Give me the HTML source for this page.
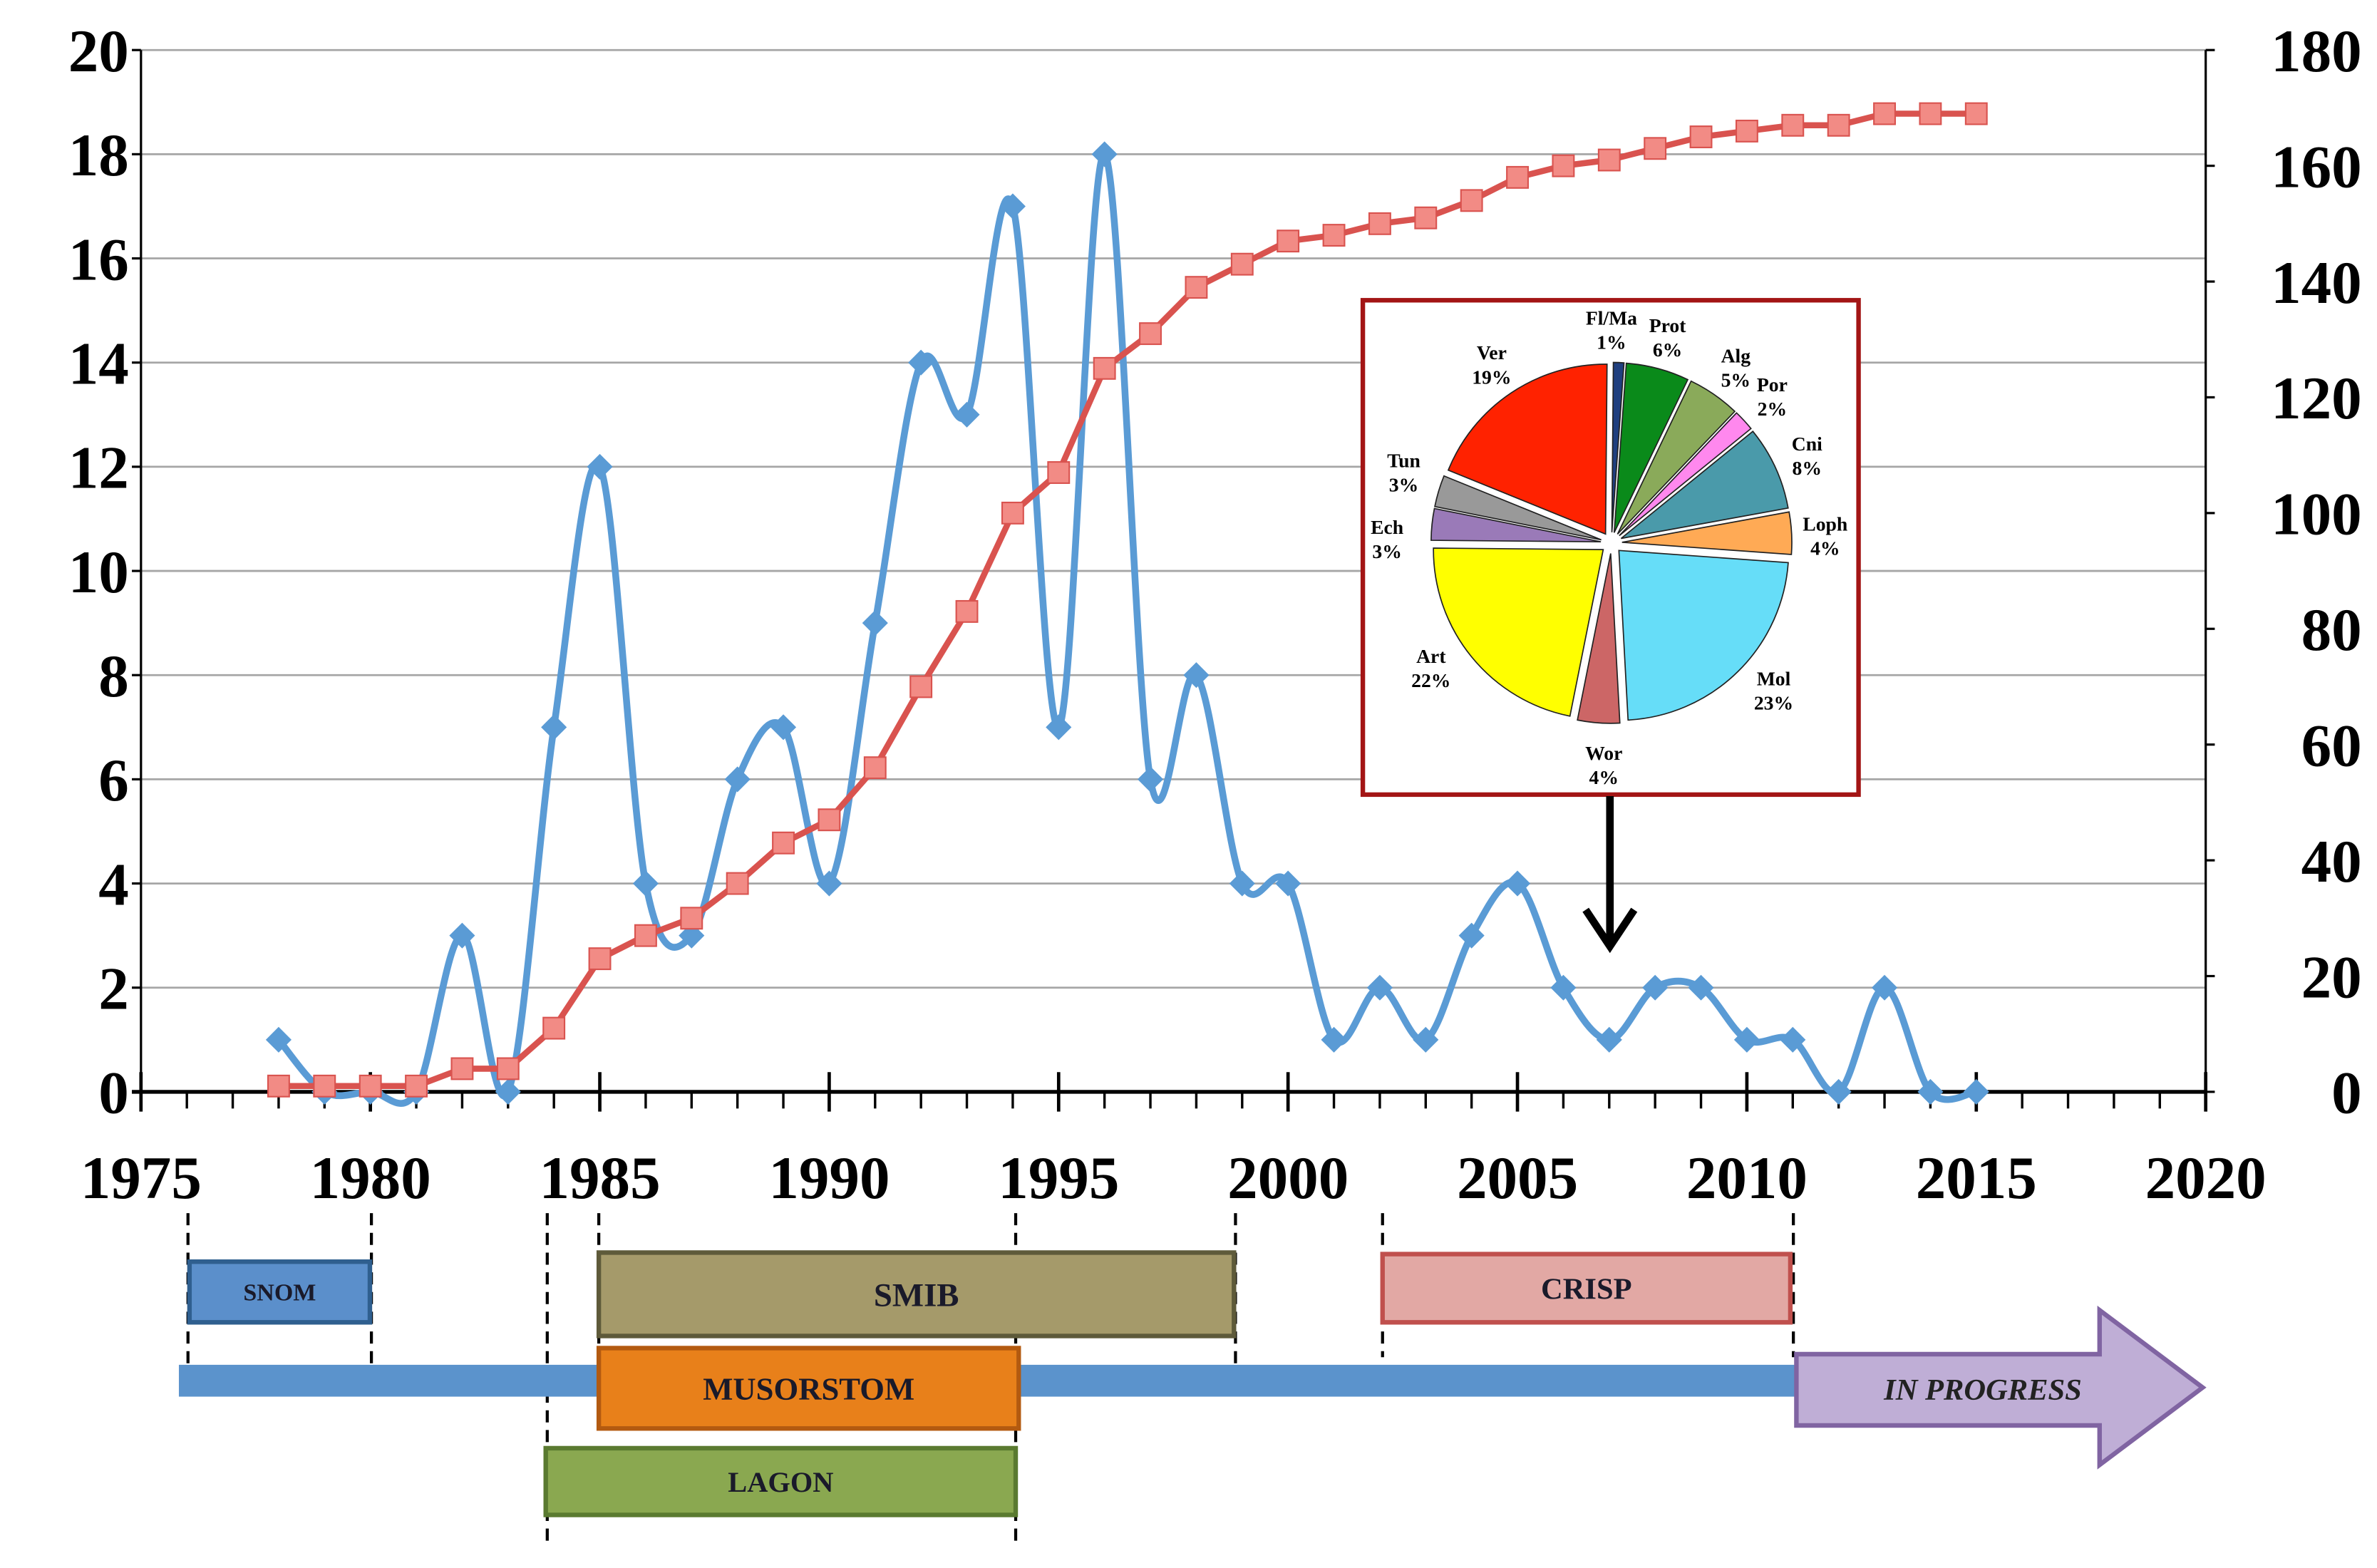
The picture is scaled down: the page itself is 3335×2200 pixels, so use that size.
<!DOCTYPE html>
<html><head><meta charset="utf-8"><style>
html,body{margin:0;padding:0;background:#fff;}
svg{display:block;}
text{font-family:"Liberation Serif",serif;font-weight:bold;}
</style></head><body>
<svg id="chart" width="3335" height="2200" viewBox="0 0 1568 1034" preserveAspectRatio="none" xmlns="http://www.w3.org/2000/svg">
<rect x="0" y="0" width="1568" height="1034" fill="#fff"/>
<g id="grid"></g>
<g id="axes"></g>
<g id="series"></g>
<g id="inset"></g>
<g id="timeline"></g>
</svg>
<script>
const years = [1978,1979,1980,1981,1982,1983,1984,1985,1986,1987,1988,1989,1990,1991,1992,1993,1994,1995,1996,1997,1998,1999,2000,2001,2002,2003,2004,2005,2006,2007,2008,2009,2010,2011,2012,2013,2014,2015];
const annualCounts = [1,0,0,0,3,0,7,12,4,3,6,7,4,9,14,13,17,7,18,6,8,4,4,1,2,1,3,4,2,1,2,2,1,1,0,2,0,0];
const cumulativeCounts = [1,1,1,1,4,4,11,23,27,30,36,43,47,56,70,83,100,107,125,131,139,143,147,148,150,151,154,158,160,161,163,165,166,167,167,169,169,169];
const leftTicks = [0,2,4,6,8,10,12,14,16,18,20];
const rightTicks = [0,20,40,60,80,100,120,140,160,180];
const xTicks = [1975,1980,1985,1990,1995,2000,2005,2010,2015,2020];
const pieLabels = ["Fl/Ma","Prot","Alg","Por","Cni","Loph","Mol","Wor","Art","Ech","Tun","Ver"];
const pieValues = [1,6,5,2,8,4,23,4,22,3,3,19];
const pieColors = ["#1f3f7f","#0a8a1a","#8aaa5a","#ff88ee","#4a9aaa","#ffaa55","#66ddf8","#cc6666","#ffff00","#9a7ab8","#999999","#ff2200"];
const NS="http://www.w3.org/2000/svg";
const X0=93,X1=1455,Y0=720,Y1=33;
const xs=y=>X0+(y-1975)/(2020-1975)*(X1-X0);
const yl=v=>Y0-v/20*(Y0-Y1);
const yr=v=>Y0-v/180*(Y0-Y1);
function mk(tag,attrs,parent,txt){const e=document.createElementNS(NS,tag);for(const k in attrs)e.setAttribute(k,attrs[k]);if(txt!==undefined)e.textContent=txt;parent.appendChild(e);return e;}
const grid=document.getElementById('grid'),axes=document.getElementById('axes'),series=document.getElementById('series'),inset=document.getElementById('inset'),tl=document.getElementById('timeline');
leftTicks.forEach(v=>{
  if(v>0){const g=mk('line',{x1:X0,x2:X1,y1:yl(v),y2:yl(v),stroke:'#a6a6a6','stroke-width':1.3},grid);
  }
  mk('line',{x1:X0-6,x2:X0,y1:yl(v),y2:yl(v),stroke:'#000','stroke-width':1.5},axes);
  const t=mk('text',{x:85,y:yl(v)+14,'text-anchor':'end','font-size':40},axes,String(v));
  
});
rightTicks.forEach(v=>{
  mk('line',{x1:X1,x2:X1+6,y1:yr(v),y2:yr(v),stroke:'#000','stroke-width':1.5},axes);
  const t=mk('text',{x:1558,y:yr(v)+14,'text-anchor':'end','font-size':40},axes,String(v));
  
});
mk('line',{x1:X0,x2:X0,y1:Y1,y2:Y0,stroke:'#000','stroke-width':1.5},axes);
mk('line',{x1:X1,x2:X1,y1:Y1,y2:Y0,stroke:'#000','stroke-width':1.5},axes);
const xa=mk('line',{x1:X0-6,x2:X1,y1:Y0,y2:Y0,stroke:'#000','stroke-width':2.5},axes);

for(let y=1975;y<=2020;y++){
  const maj=(y%5===0);
  mk('line',{x1:xs(y),x2:xs(y),y1:maj?707:Y0,y2:maj?733:731,stroke:'#000','stroke-width':maj?2.2:1.6},axes);
}
xTicks.forEach(y=>{const t=mk('text',{x:xs(y),y:790,'text-anchor':'middle','font-size':40},axes,String(y));
  });
// blue smooth line (Catmull-Rom)
const pts=years.map((y,i)=>[xs(y),yl(annualCounts[i])]);
let d='M'+pts[0][0]+','+pts[0][1];
for(let i=0;i<pts.length-1;i++){
  const p0=pts[Math.max(0,i-1)],p1=pts[i],p2=pts[i+1],p3=pts[Math.min(pts.length-1,i+2)];
  const c1=[p1[0]+(p2[0]-p0[0])/6,p1[1]+(p2[1]-p0[1])/6],c2=[p2[0]-(p3[0]-p1[0])/6,p2[1]-(p3[1]-p1[1])/6];
  d+=' C'+c1+' '+c2+' '+p2;
}
const bl=mk('path',{d:d,fill:'none',stroke:'#5a9bd5','stroke-width':4.5,'stroke-linejoin':'round'},series);

const rd=mk('polyline',{points:years.map((y,i)=>xs(y)+','+yr(cumulativeCounts[i])).join(' '),fill:'none',stroke:'#d9534f','stroke-width':4},series);

pts.forEach(p=>{const m=mk('rect',{x:p[0]-6,y:p[1]-6,width:12,height:12,fill:'#5a9bd5',transform:'rotate(45 '+p[0]+' '+p[1]+')'},series);
  });
years.forEach((y,i)=>{const m=mk('rect',{x:xs(y)-7,y:yr(cumulativeCounts[i])-7,width:14,height:14,fill:'#f28b85',stroke:'#d9534f','stroke-width':1},series);
  });
// inset
const bx=mk('rect',{x:899,y:198,width:327,height:326,fill:'#fff',stroke:'#a31515','stroke-width':3},inset);

const cx=1063,cy=358,R=112,ex=7;
const total=pieValues.reduce((a,b)=>a+b,0);
let a0=0.5;
pieValues.forEach((v,i)=>{
  const a1=a0+v/total*360, am=(a0+a1)/2*Math.PI/180;
  const ox=cx+ex*Math.sin(am),oy=cy-ex*Math.cos(am);
  const r0=a0*Math.PI/180,r1=a1*Math.PI/180;
  const p=`M${ox},${oy} L${ox+R*Math.sin(r0)},${oy-R*Math.cos(r0)} A${R},${R} 0 ${(a1-a0)>180?1:0} 1 ${ox+R*Math.sin(r1)},${oy-R*Math.cos(r1)} Z`;
  const s=mk('path',{d:p,fill:pieColors[i],stroke:'#222','stroke-width':0.8},inset);
  
  a0=a1;
});
const lp={"Fl/Ma":[1063,214],"Prot":[1100,219],"Alg":[1145,239],"Por":[1169,258],"Cni":[1192,297],"Loph":[1204,350],"Mol":[1170,452],"Wor":[1058,501],"Art":[944,437],"Ech":[915,352],"Tun":[926,308],"Ver":[984,237]};
const pctOff={"Alg":[0,0]};
pieLabels.forEach((l,i)=>{const q=lp[l];
  const t1=mk('text',{x:q[0],y:q[1],'text-anchor':'middle','font-size':13},inset,l);
  
  const t2=mk('text',{x:q[0],y:q[1]+16,'text-anchor':'middle','font-size':13},inset,pieValues[i]+'%');
  });
const ar=mk('line',{x1:1062,y1:525,x2:1062,y2:620,stroke:'#000','stroke-width':5},inset);

mk('polyline',{points:'1046,600 1062,624 1078,600',fill:'none',stroke:'#000','stroke-width':5},inset);
// timeline
[[124,800,900],[245,800,900],[361,800,1020],[395,800,890],[670,800,1020],[815,800,900],[912,800,895],[1183,800,895]].forEach(l=>{
  const e=mk('line',{x1:l[0],x2:l[0],y1:l[1],y2:l[2],stroke:'#000','stroke-width':2,'stroke-dasharray':'8,5'},tl);
  });
const bar=mk('rect',{x:118,y:900,width:1068,height:21,fill:'#5b93cc'},tl);

const arrow=mk('polygon',{points:'1185,893 1385,893 1385,864 1453,915 1385,966 1385,940 1185,940',fill:'#bfaed6',stroke:'#8064a2','stroke-width':3},tl);

const ip=mk('text',{x:1308,y:923,'text-anchor':'middle','font-size':20,'font-style':'italic',fill:'#222'},tl,'IN PROGRESS');

[["SNOM",125,832,119,40,'#5b8fcb','#2f5f8f',16],["SMIB",395,826,419,55,'#a59a6a','#5e5a3a',22],["CRISP",912,827,269,45,'#e2a8a4','#c0504d',20],["MUSORSTOM",395,889,277,53,'#e8801a','#b35a10',21],["LAGON",360,955,310,44,'#8aa850','#5a7a30',19]].forEach(b=>{
  const r=mk('rect',{x:b[1],y:b[2],width:b[3],height:b[4],fill:b[5],stroke:b[6],'stroke-width':3},tl);
  
  const t=mk('text',{x:b[1]+b[3]/2,y:b[2]+b[4]/2+b[7]*0.35,'text-anchor':'middle','font-size':b[7],fill:'#1a1a2a'},tl,b[0]);
  
});
</script>
</body></html>
